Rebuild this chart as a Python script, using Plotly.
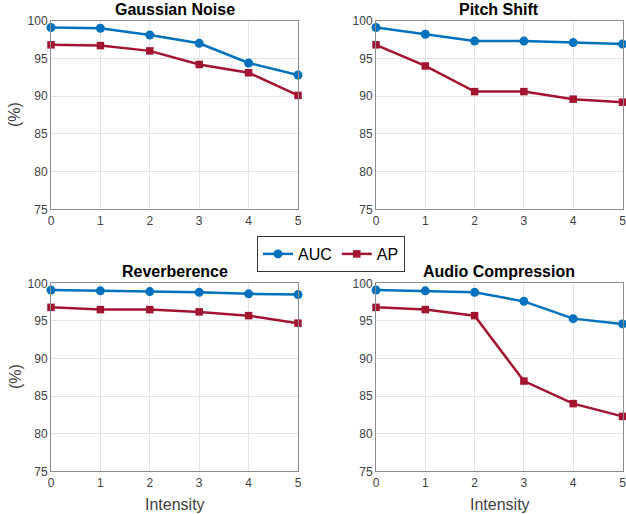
import plotly.graph_objects as go

intensity = [0, 1, 2, 3, 4, 5]
titles = ["Gaussian Noise", "Pitch Shift", "Reverberence", "Audio Compression"]

gauss_auc = [99.1, 99.0, 98.1, 97.0, 94.4, 92.8]
gauss_ap = [96.8, 96.7, 96.0, 94.2, 93.1, 90.1]
pitch_auc = [99.1, 98.2, 97.3, 97.3, 97.1, 96.9]
pitch_ap = [96.8, 94.0, 90.6, 90.6, 89.6, 89.2]
reverb_auc = [99.1, 99.0, 98.9, 98.8, 98.6, 98.5]
reverb_ap = [96.8, 96.5, 96.5, 96.2, 95.7, 94.7]
comp_auc = [99.1, 99.0, 98.8, 97.6, 95.3, 94.6]
comp_ap = [96.8, 96.5, 95.7, 87.0, 84.0, 82.3]

auc_series = [gauss_auc, pitch_auc, reverb_auc, comp_auc]
ap_series = [gauss_ap, pitch_ap, reverb_ap, comp_ap]

W, H = 626, 514
BLUE = "#0072BD"
RED = "#A2142F"
FONT = "Liberation Sans, Arial, sans-serif"

# pixel boxes (x0, x1, ytop, ybottom)
boxes = [(51, 298, 20.7, 209.3), (376, 622.5, 20.7, 209.3),
         (51, 298, 283.3, 471.3), (376, 622.5, 283.3, 471.3)]

fig = go.Figure()
layout = {}
for i, (x0, x1, yt, yb) in enumerate(boxes):
    n = "" if i == 0 else str(i + 1)
    xa, ya = "x" + n, "y" + n
    fig.add_trace(go.Scatter(x=intensity, y=auc_series[i], mode="lines+markers", name="AUC",
                             line=dict(color=BLUE, width=2.5),
                             marker=dict(symbol="circle", size=9, color=BLUE),
                             xaxis=xa, yaxis=ya, showlegend=(i == 0), cliponaxis=False))
    fig.add_trace(go.Scatter(x=intensity, y=ap_series[i], mode="lines+markers", name="AP",
                             line=dict(color=RED, width=2.5),
                             marker=dict(symbol="square", size=7.5, color=RED),
                             xaxis=xa, yaxis=ya, showlegend=(i == 0), cliponaxis=False))
    axis_common = dict(showline=True, linecolor="#8c8c8c", linewidth=1, mirror=True,
                       showgrid=True, gridcolor="#e3e3e3", gridwidth=1, zeroline=False,
                       automargin=False, ticks="", ticklabeloverflow="allow",
                       tickfont=dict(family=FONT, size=12, color="#404040"))
    layout["xaxis" + n] = dict(domain=[x0 / W, x1 / W], range=[0, 5], dtick=1, tick0=0,
                               anchor=ya, **axis_common)
    layout["yaxis" + n] = dict(domain=[1 - yb / H, 1 - yt / H], range=[75, 100], dtick=5, tick0=75,
                               anchor=xa, **axis_common)
    fig.add_annotation(text="<b>" + titles[i] + "</b>", x=(x0 + x1) / 2 / W, y=1 - (yt - 11.5) / H,
                       xref="paper", yref="paper", showarrow=False, xanchor="center", yanchor="middle",
                       font=dict(family=FONT, size=16, color="black"))

for yc in [115, 377]:
    fig.add_annotation(text="(%)", x=15 / W, y=1 - yc / H, xref="paper", yref="paper",
                       showarrow=False, textangle=-90, xanchor="center", yanchor="middle",
                       font=dict(family=FONT, size=16, color="#404040"))
for xc in [174.5, 499.5]:
    fig.add_annotation(text="Intensity", x=xc / W, y=1 - 504 / H, xref="paper", yref="paper",
                       showarrow=False, xanchor="center", yanchor="middle",
                       font=dict(family=FONT, size=16, color="#404040"))

fig.update_layout(**layout)
fig.update_layout(width=W, height=H, margin=dict(l=0, r=0, t=0, b=0, autoexpand=False),
                  paper_bgcolor="white", plot_bgcolor="white",
                  legend=dict(orientation="h", x=331 / W, y=1 - 254 / H, xanchor="center", yanchor="middle",
                              bordercolor="#333333", borderwidth=1, bgcolor="white",
                              font=dict(family=FONT, size=16, color="black"),
                              itemwidth=30, tracegroupgap=0))
fig.write_html("out.html", config={"displayModeBar": False},
               post_script="document.body.style.margin='0';document.body.style.overflow='hidden';")
